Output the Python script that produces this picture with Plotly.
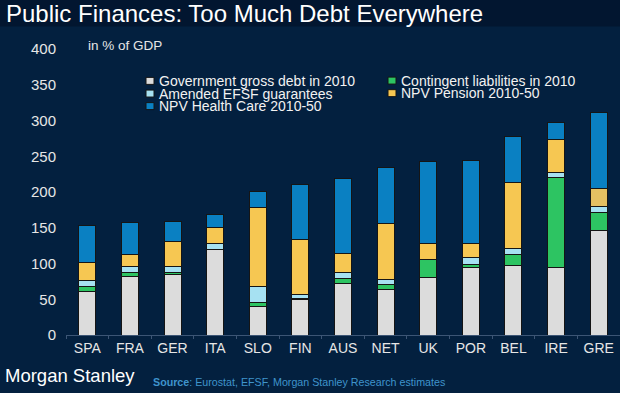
import plotly.graph_objects as go

countries = ["SPA", "FRA", "GER", "ITA", "SLO", "FIN", "AUS", "NET", "UK", "POR", "BEL", "IRE", "GRE"]
gov_debt = [61, 82.5, 84, 119, 39.3, 49.5, 72.7, 63.4, 81.1, 94.5, 97.3, 95, 146]
contingent = [6.2, 5.6, 3.1, 0, 5.6, 1, 7, 6.6, 24.1, 3.8, 15.9, 124.9, 25.1]
efsf = [9.2, 8.3, 8.4, 8.9, 22.3, 6.4, 7.8, 8.3, 0, 10.7, 7.4, 7.6, 8.4]
pension = [25.6, 16.2, 35.2, 22.3, 110.9, 77.2, 26.5, 77.5, 23.3, 19, 93.3, 45.9, 25.1]
health = [51.6, 44.2, 27.5, 18.7, 22.3, 76.6, 104.5, 79, 113.7, 116.2, 64.1, 23.2, 106.4]
y_ticks = [0, 50, 100, 150, 200, 250, 300, 350, 400]

series_names = ["Government gross debt in 2010", "Contingent liabilities in 2010",
                "Amended EFSF guarantees", "NPV Pension 2010-50", "NPV Health Care 2010-50"]

W, H = 620, 393
L, R, T, B = 66, 0, 48.5, 57.5
PW, PH = W - L - R, H - T - B
BG = "#03203F"
FONT = "Liberation Sans, Arial, sans-serif"

col_debt = "#DCDCDC"
col_cont = "#2DC462"
col_efsf = "#A6E1F2"
col_pens = "#F6C752"
col_heal = "#0A80C2"
pens_colors = [col_pens] * (len(countries) - 1) + ["#E4C062"]

fig = go.Figure()
for name, vals, color in [
    (series_names[0], gov_debt, col_debt),
    (series_names[1], contingent, col_cont),
    (series_names[2], efsf, col_efsf),
    (series_names[3], pension, pens_colors),
    (series_names[4], health, col_heal),
]:
    fig.add_trace(go.Bar(
        x=countries, y=vals, name=name,
        marker=dict(color=color, line=dict(color="#151515", width=1)),
        showlegend=False, hoverinfo="x+y+name",
    ))


def px_x(px):
    return (px - L) / PW


def px_y(py):
    return (H - B - py) / PH


shapes = []
annotations = []

# title band
shapes.append(dict(type="rect", xref="paper", yref="paper", layer="below",
                   x0=px_x(-2), x1=px_x(W + 2), y0=px_y(26), y1=px_y(-2),
                   fillcolor="#021630", line=dict(width=0)))
annotations.append(dict(text="Public Finances: Too Much Debt Everywhere", xref="paper", yref="paper",
                        x=px_x(4), y=px_y(13), xanchor="left", yanchor="middle", showarrow=False,
                        font=dict(family=FONT, size=24, color="#FFFFFF")))

annotations.append(dict(text="in % of GDP", xref="paper", yref="paper",
                        x=px_x(86), y=px_y(45), xanchor="left", yanchor="middle", showarrow=False,
                        font=dict(family=FONT, size=13.5, color="#E6E6E6")))

# legend (manual, tight row spacing as in the reference)
legend_items = [
    (series_names[0], col_debt, 146, 80.5),
    (series_names[2], col_efsf, 146, 93.2),
    (series_names[4], col_heal, 146, 105.8),
    (series_names[1], col_cont, 388, 80.2),
    (series_names[3], col_pens, 388, 92.8),
]
for name, color, sx, sy in legend_items:
    shapes.append(dict(type="rect", xref="paper", yref="paper",
                       x0=px_x(sx), x1=px_x(sx + 8), y0=px_y(sy + 3.5), y1=px_y(sy - 3.5),
                       fillcolor=color, line=dict(color="#151515", width=1)))
    annotations.append(dict(text=name, xref="paper", yref="paper",
                            x=px_x(sx + 11), y=px_y(sy), xanchor="left", yanchor="middle",
                            showarrow=False,
                            font=dict(family=FONT, size=14, color="#F2F2F2")))

# footer
annotations.append(dict(text="Morgan Stanley", xref="paper", yref="paper",
                        x=px_x(3), y=px_y(376), xanchor="left", yanchor="middle", showarrow=False,
                        font=dict(family=FONT, size=18.5, color="#FFFFFF")))
annotations.append(dict(text="<b>Source</b>: Eurostat, EFSF, Morgan Stanley Research estimates",
                        xref="paper", yref="paper",
                        x=px_x(151), y=px_y(383), xanchor="left", yanchor="middle", showarrow=False,
                        font=dict(family=FONT, size=10.7, color="#3F94CC")))

fig.update_layout(
    width=W, height=H,
    margin=dict(l=L, r=R, t=T, b=B, pad=0),
    barmode="stack", bargap=0.6,
    paper_bgcolor=BG, plot_bgcolor=BG,
    shapes=shapes, annotations=annotations,
    xaxis=dict(showgrid=False, showline=True, linecolor="#3C5575", linewidth=1,
               ticks="outside", ticklen=3, tickcolor="#3C5575", tickson="boundaries",
               tickfont=dict(family=FONT, size=14, color="#E6E6E6"), fixedrange=True),
    yaxis=dict(range=[0, 400], tickvals=y_ticks, showgrid=False, zeroline=False,
               showline=False, ticks="", ticklabelstandoff=9,
               tickfont=dict(family=FONT, size=15, color="#E6E6E6"), fixedrange=True),
    showlegend=False,
)

fig.write_html("out.html", config={"displayModeBar": False},
               post_script="document.body.style.margin='0';document.body.style.overflow='hidden';")
